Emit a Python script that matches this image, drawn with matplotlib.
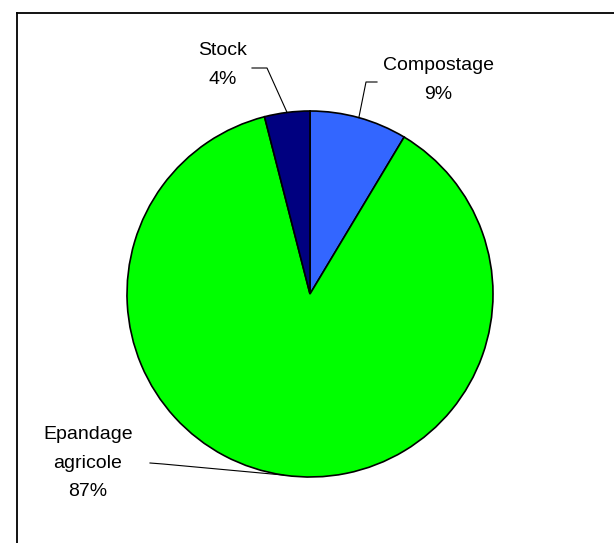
import numpy as np
import matplotlib
matplotlib.use("Agg")
import matplotlib.pyplot as plt

# data
labels = ["Compostage", "Epandage\nagricole", "Stock"]
values = [8.6, 87.4, 4.0]
colors = ["#3366FF", "#00FF00", "#000080"]

plt.rcParams['font.family'] = ['Liberation Sans', 'DejaVu Sans']

W, H = 614, 543
fig = plt.figure(figsize=(W / 100, H / 100), dpi=100)
ax = fig.add_axes([0, 0, 1, 1])

cx, cy, r = 310, H - 294, 183
wedges, _ = ax.pie(values, colors=colors, startangle=90, counterclock=False,
                   center=(cx, cy), radius=r, frame=True,
                   wedgeprops=dict(edgecolor='black', linewidth=1.2))
ax.set_xlim(0, W)
ax.set_ylim(0, H)
ax.set_aspect('equal')
ax.axis('off')

# frame around chart area (right/bottom cut off)
ax.plot([17, 17], [0, H - 13], color='black', lw=1.3)
ax.plot([17, W], [H - 13, H - 13], color='black', lw=1.3)

# label positions (text centre) and leader elbow points, pixel coords from top
text_pos = [(438, 80), (88, 463), (223, 65)]
elbows = [[(377, 82), (366, 82)], [(150, 463), (163, 464)], [(252, 68), (267, 68)]]

for w, lab, v, tp, el in zip(wedges, labels, values, text_pos, elbows):
    mid = np.deg2rad((w.theta1 + w.theta2) / 2)
    px, py = cx + r * np.cos(mid), cy + r * np.sin(mid)
    xs = [p[0] for p in el] + [px]
    ys = [H - p[1] for p in el] + [py]
    ax.plot(xs, ys, color='black', lw=0.8)
    ax.text(tp[0], H - tp[1], f"{lab}\n{round(v):d}%", ha='center', va='center',
            fontsize=14, linespacing=1.85, color='black')

fig.savefig("out.png", dpi=100)
